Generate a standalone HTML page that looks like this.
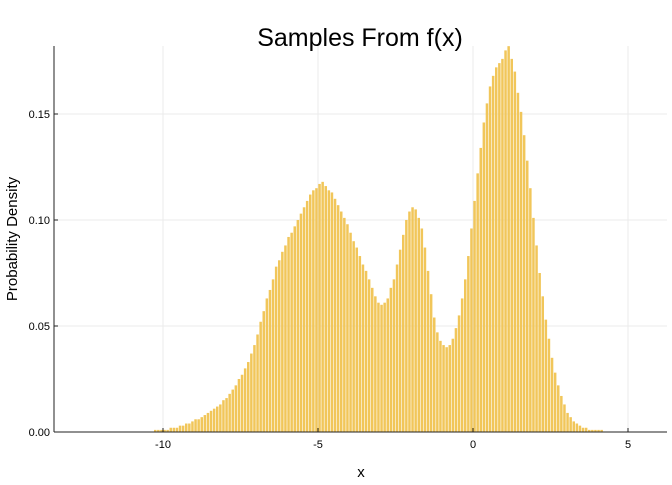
<!DOCTYPE html>
<html><head><meta charset="utf-8"><style>
body{margin:0;background:#fff;font-family:"Liberation Sans",sans-serif}
</style></head><body>
<svg id="c" width="672" height="480" xmlns="http://www.w3.org/2000/svg" font-family="Liberation Sans, sans-serif"></svg>
<script>
const binStart = -10.5;
const binWidth = 0.1;
const densities = [
0.000,0.000,0.001,0.001,0.001,0.001,
0.001,0.002,0.002,0.002,0.003,0.003,0.004,0.004,0.005,0.006,
0.006,0.007,0.008,0.009,0.010,0.011,0.012,0.013,0.015,0.016,
0.018,0.020,0.022,0.025,0.027,0.030,0.033,0.037,0.041,0.046,
0.052,0.057,0.063,0.067,0.072,0.078,0.081,0.085,0.088,0.092,
0.094,0.097,0.100,0.103,0.106,0.109,0.112,0.114,0.115,0.117,
0.118,0.116,0.114,0.113,0.110,0.107,0.104,0.101,0.098,0.094,
0.090,0.087,0.083,0.079,0.076,0.072,0.068,0.064,0.061,0.060,
0.061,0.063,0.068,0.072,0.079,0.086,0.093,0.100,0.104,0.106,
0.105,0.101,0.096,0.087,0.076,0.065,0.054,0.047,0.043,0.041,
0.040,0.041,0.044,0.049,0.055,0.063,0.072,0.083,0.096,0.109,
0.122,0.134,0.146,0.155,0.163,0.168,0.172,0.174,0.176,0.180,
0.182,0.176,0.170,0.160,0.151,0.140,0.128,0.115,0.101,0.088,
0.075,0.064,0.053,0.044,0.035,0.028,0.022,0.017,0.013,0.009,
0.007,0.005,0.004,0.003,0.002,0.002,0.001,0.001,0.001,0.001,
0.001,0.000,0.000,0.000,0.000];
const xTicks = [-10,-5,0,5];
const xTickLabels = ["-10","-5","0","5"];
const yTicks = [0,0.05,0.10,0.15];
const yTickLabels = ["0.00","0.05","0.10","0.15"];

const NS="http://www.w3.org/2000/svg";
const svg=document.getElementById('c');
const L=54,R=667,T=46,B=432;
const X=v=>473+31*v;
const Y=v=>432-2120*v;
function mk(tag,attrs,parent){const e=document.createElementNS(NS,tag);for(const k in attrs)e.setAttribute(k,attrs[k]);(parent||svg).appendChild(e);return e;}

// grid
xTicks.forEach((t,i)=>{
  const g=mk('line',{x1:X(t),x2:X(t),y1:T,y2:B,stroke:'#ebebeb','stroke-width':1});
  
  
});
yTicks.forEach((t,i)=>{
  const g=mk('line',{x1:L,x2:R,y1:Y(t),y2:Y(t),stroke:'#ebebeb','stroke-width':1});
  
  
});
// bars
densities.forEach((d,i)=>{
  if(d<=0)return;
  const x0=binStart+i*binWidth;
  const px=X(x0), w=X(x0+binWidth)-px;
  const r=mk('rect',{x:px+0.3,y:Y(d),width:w-0.6,height:B-Y(d),fill:'#f1c65a'});
  
  
});
// axes
const ax=mk('line',{x1:L,x2:R,y1:B,y2:B,stroke:'#222','stroke-width':1});


const ay=mk('line',{x1:L,x2:L,y1:T,y2:B,stroke:'#222','stroke-width':1});


xTicks.forEach((t,i)=>{
  mk('line',{x1:X(t),x2:X(t),y1:B,y2:B-4,stroke:'#222'});
  const tx=mk('text',{x:X(t),y:B+16,'font-size':11,'text-anchor':'middle',fill:'#000'});
  tx.textContent=xTickLabels[i];
  
  
});
yTicks.forEach((t,i)=>{
  mk('line',{x1:L,x2:L+4,y1:Y(t),y2:Y(t),stroke:'#222'});
  const tx=mk('text',{x:L-4,y:Y(t)+4,'font-size':11,'text-anchor':'end',fill:'#000'});
  tx.textContent=yTickLabels[i];
  
  
});
const title=mk('text',{x:360,y:46,'font-size':25,'text-anchor':'middle',fill:'#000'});
title.textContent='Samples From f(x)';


const xl=mk('text',{x:361,y:477,'font-size':15,'text-anchor':'middle',fill:'#000'});
xl.textContent='x';


const yl=mk('text',{x:0,y:0,'font-size':15,'text-anchor':'middle',fill:'#000',transform:'translate(17,239) rotate(-90)'});
yl.textContent='Probability Density';


</script>
</body></html>
